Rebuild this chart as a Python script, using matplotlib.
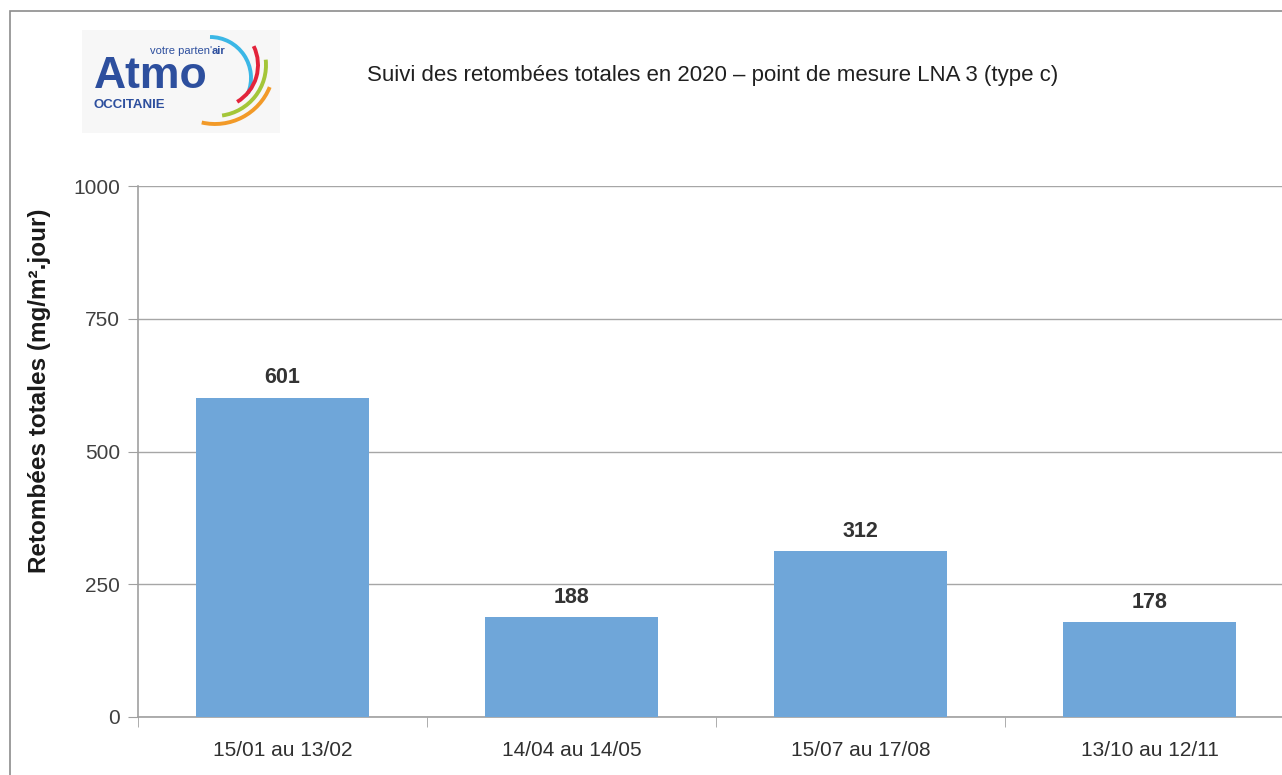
import numpy as np
import matplotlib.pyplot as plt
from matplotlib.patches import Rectangle, Arc
from matplotlib import font_manager

periods = ['15/01 au 13/02', '14/04 au 14/05', '15/07 au 17/08', '13/10 au 12/11']
values = [601, 188, 312, 178]
yticks = [0, 250, 500, 750, 1000]

names = {f.name for f in font_manager.fontManager.ttflist}
narrow = 'Liberation Sans Narrow' if 'Liberation Sans Narrow' in names else 'Liberation Sans'
plt.rcParams['font.family'] = ['Liberation Sans', 'DejaVu Sans']

W, H = 1282, 775
fig = plt.figure(figsize=(W / 100, H / 100), dpi=100)

# outer frame (cut by the image edge on the right and bottom)
fig.patches.append(Rectangle((10 / W, -0.1), 1.2, 1 - 11 / H + 0.1, transform=fig.transFigure,
                             fill=False, edgecolor='#8c8c8c', linewidth=1.2))

ax = fig.add_axes([138 / W, 1 - 717 / H, 1156 / W, 531 / H])
x = np.arange(len(values))
ax.bar(x, values, width=0.6, color='#6fa6d9', zorder=3)
for xi, v in zip(x, values):
    ax.text(xi, v + 18, str(v), ha='center', va='bottom', fontsize=15.5, fontweight='bold', color='#333333')

ax.set_xlim(-0.5, len(values) - 0.5)
ax.set_ylim(0, 1000)
ax.set_yticks(yticks)
ax.set_yticklabels([str(t) for t in yticks], fontsize=15, color='#404040')
ax.set_xticks(x)
ax.set_xticklabels(periods, fontsize=15, color='#303030')
ax.set_xticks(np.arange(len(values) + 1) - 0.5, minor=True)
ax.tick_params(axis='x', which='major', length=0, pad=17)
ax.tick_params(axis='x', which='minor', length=7, color='#a0a0a0', direction='out')
ax.tick_params(axis='y', length=7, color='#a0a0a0', pad=6)
ax.grid(axis='y', color='#a6a6a6', linewidth=1, zorder=0)
for s in ['top', 'right']:
    ax.spines[s].set_visible(False)
for s in ['left', 'bottom']:
    ax.spines[s].set_color('#a0a0a0')
    ax.spines[s].set_linewidth(1.2)

fig.text(40 / W, 1 - 391 / H, 'Retombées totales (mg/m².jour)', rotation=90, ha='center', va='center',
         fontsize=17.5, fontweight='bold', color='#1a1a1a', family=[narrow, 'DejaVu Sans'])

fig.text(713 / W, 1 - 75 / H, 'Suivi des retombées totales en 2020 – point de mesure LNA 3 (type c)',
         ha='center', va='center', fontsize=16, color='#202020')

# logo
lg = fig.add_axes([82 / W, 1 - 133 / H, 198 / W, 103 / H])
lg.set_xlim(0, 198)
lg.set_ylim(0, 103)
lg.axis('off')
lg.add_patch(Rectangle((0, 0), 198, 103, color='#f7f7f7', zorder=0))
lg.text(12, 45, 'Atmo', fontsize=32, fontweight='bold', color='#2d4f9e', va='baseline')
lg.text(12, 25, 'OCCITANIE', fontsize=9.5, fontweight='bold', color='#2d4f9e', va='baseline')
lg.text(130, 79, "votre parten'", fontsize=8, color='#2d4f9e', va='baseline', ha='right')
lg.text(130, 79, 'air', fontsize=8, fontweight='bold', color='#2d4f9e', va='baseline', ha='left')
arcs = [((128, 55), 41, '#3bb7e6', -22, 90),
        ((133, 68), 43, '#e3243b', -59, 26),
        ((133, 68), 51, '#a4c639', -82, 6),
        ((133, 68), 59, '#f29a28', -103, -22)]
for c, r, col, t1, t2 in arcs:
    lg.add_patch(Arc(c, 2 * r, 2 * r, theta1=t1, theta2=t2, color=col, linewidth=2.8))

fig.savefig('out.png', dpi=100)
